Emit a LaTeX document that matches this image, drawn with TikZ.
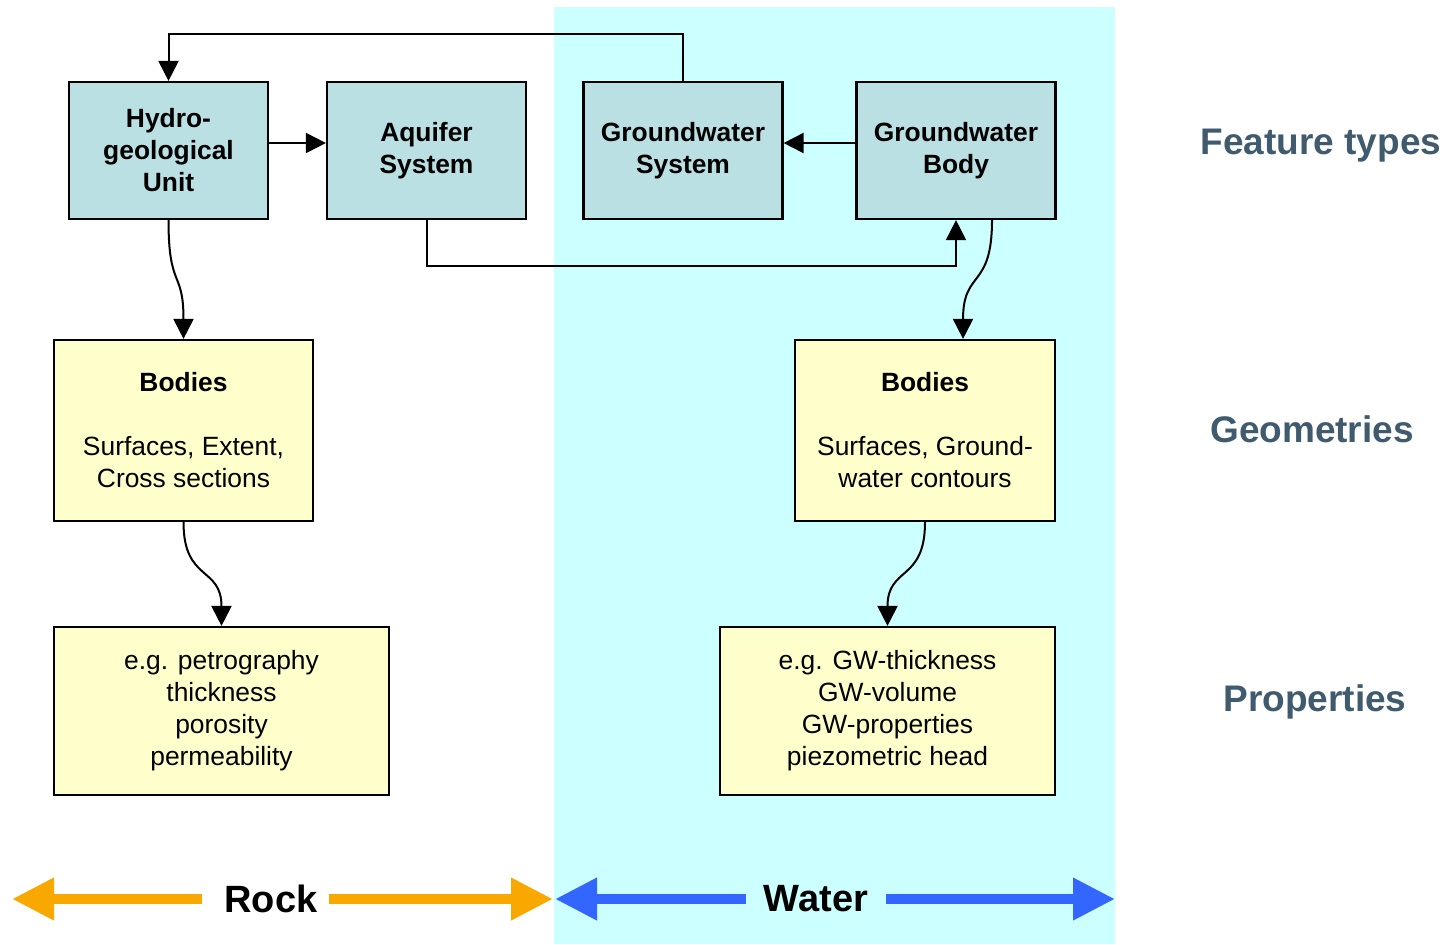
\documentclass[tikz,border=0pt]{standalone}
\usepackage{fontspec}
\setmainfont{Liberation Sans}
\usetikzlibrary{arrows.meta,calc}
\definecolor{bgcyan}{HTML}{CCFFFF}
\definecolor{tealbox}{HTML}{BBE0E3}
\definecolor{yelbox}{HTML}{FFFFCC}
\definecolor{sidelab}{RGB}{64,91,110}
\definecolor{rockorange}{RGB}{249,168,0}
\definecolor{waterblue}{RGB}{51,102,255}
\begin{document}
\begin{tikzpicture}[x=0.5pt,y=-0.5pt,
  boxbase/.style={draw=black, line width=1.1pt, inner sep=0pt, align=center,
    font=\fontsize{13.2}{16}\selectfont},
  featbox/.style={boxbase, fill=tealbox, minimum width=99.5pt, minimum height=68.5pt, font=\fontsize{13.2}{16}\selectfont\bfseries},
  geombox/.style={boxbase, fill=yelbox, minimum width=130pt, minimum height=90.5pt},
  propbox/.style={boxbase, fill=yelbox, minimum width=167.5pt, minimum height=84pt},
  conn/.style={draw=black, line width=1pt, -{Triangle[length=10pt,width=10pt]}},
  sidelabel/.style={text=sidelab, font=\fontsize{18.5}{22}\selectfont\bfseries},
  bandlabel/.style={font=\fontsize{19}{23}\selectfont\bfseries},
  rockarrow/.style={draw=rockorange, line width=5pt, -{Triangle[length=21pt,width=20pt]}},
  waterarrow/.style={draw=waterblue, line width=5pt, -{Triangle[length=21pt,width=20pt]}}
]
\useasboundingbox (0,0) rectangle (1449,944);
\fill[bgcyan] (554,7) rectangle (1115,944);

% feature type boxes
\node[featbox] (hgu) at (168.5,150.5) {Hydro-\\geological\\Unit};
\node[featbox] (aq)  at (426.5,150.5) {Aquifer\\System};
\node[featbox] (gws) at (683,150.5) {Groundwater\\System};
\node[featbox] (gwb) at (956,150.5) {Groundwater\\Body};

% geometry boxes
\node[geombox, minimum width=129.5pt] (bl) at (183.5,430.5) {\textbf{Bodies}\\[16pt]Surfaces, Extent,\\Cross sections};
\node[geombox] (br) at (925,430.5) {\textbf{Bodies}\\[16pt]Surfaces, Ground-\\water contours};

% property boxes
\node[propbox] (pl) at (221.5,711) {e.g. petrography\\thickness\\porosity\\permeability};
\node[propbox] (pr) at (887.5,711) {e.g. GW-thickness\\GW-volume\\GW-properties\\piezometric head};

% helper coordinates
\coordinate (topline) at (0,34);
\coordinate (botline) at (0,266);

% connectors
\draw[conn] (gws.north) -- (gws.north |- topline) -| (hgu.north);
\draw[conn] ([yshift=3.75pt]hgu.east) -- ([yshift=3.75pt]aq.west);
\draw[conn] ([yshift=3.75pt]gwb.west) -- ([yshift=3.75pt]gws.east);
\draw[conn] (aq.south) -- (aq.south |- botline) -| (gwb.south);

\draw[conn] (hgu.south) .. controls +(0,70) and +(0,-70) .. (bl.north);
\draw[conn] (bl.south) .. controls +(0,60) and +(0,-60) .. (pl.north);
\draw[conn] ([xshift=18pt]gwb.south) .. controls +(0,70) and +(0,-70) .. ([xshift=19pt]br.north);
\draw[conn] (br.south) .. controls +(0,60) and +(0,-60) .. (pr.north);

% side labels
\node[sidelabel] (ft) at (1321,146) {Feature types};
\node[sidelabel] (ge) at (1312,429) {Geometries};
\node[sidelabel] (pp) at (1315,702) {Properties};

% bottom band arrows
\node[bandlabel, inner xsep=5.5pt] (rock) at (271,899) {Rock};
\coordinate (rockL) at (12,899);
\coordinate (rockR) at (553,899);
\draw[rockarrow] ([xshift=-5.5pt]rock.west) -- (rockL);
\draw[rockarrow] (rock.east) -- (rockR);

\node[bandlabel, inner xsep=9pt] (water) at (816,899) {Water};
\coordinate (waterL) at (555,899);
\coordinate (waterR) at (1115,899);
\draw[waterarrow] (water.west) -- (waterL);
\draw[waterarrow] (water.east) -- (waterR);
\end{tikzpicture}
\end{document}
